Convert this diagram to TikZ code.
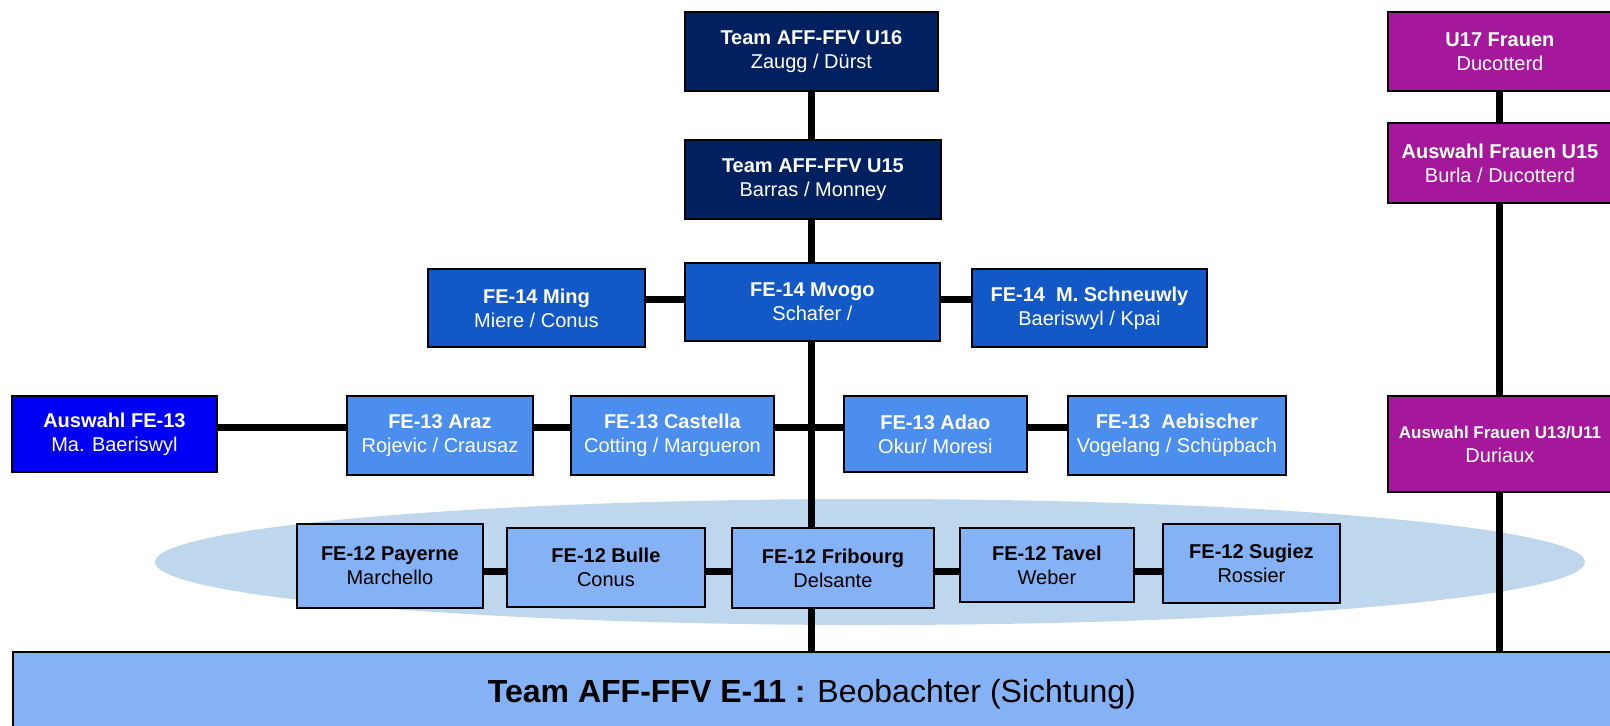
\documentclass[tikz,border=0pt]{standalone}
\usepackage{fontspec}
\setmainfont{Liberation Sans}
\usetikzlibrary{backgrounds}

\definecolor{navy}{RGB}{0,32,96}
\definecolor{lila}{RGB}{165,24,155}
\definecolor{blue14}{RGB}{18,88,198}
\definecolor{blueaus}{RGB}{0,0,245}
\definecolor{blue13}{RGB}{76,142,238}
\definecolor{blue12}{RGB}{133,178,245}
\definecolor{oval}{RGB}{191,215,237}

\tikzset{every picture/.style={line width=0.75pt}}
\tikzset{
  box/.style={draw=black, line width=1.4pt, anchor=north west, align=center, inner sep=2pt, font=\fontsize{15}{18}\selectfont},
  navybox/.style={box, fill=navy, text=white},
  lilabox/.style={box, fill=lila, text=white},
  fe14box/.style={box, fill=blue14, text=white},
  ausbox/.style={box, fill=blueaus, text=white},
  fe13box/.style={box, fill=blue13, text=white},
  fe12box/.style={box, fill=blue12, text=black},
  link/.style={draw=black, line width=5.25pt}
}

\begin{document}
\begin{tikzpicture}[x=0.75pt,y=0.75pt,yscale=-1,xscale=1]
\useasboundingbox (0,0) rectangle (1610,725);

% Spines and row heights
\coordinate (spine) at (811,0);
\coordinate (rspine) at (1499,0);
\coordinate (r14) at (0,299);
\coordinate (r13) at (0,427);
\coordinate (r12) at (0,571);

% Team boxes
\node[navybox, minimum width=189.75pt, minimum height=59.25pt] (u16) at (684,11) {\textbf{Team AFF-FFV U16}\\Zaugg / Dürst};
\node[navybox, minimum width=192pt, minimum height=59.25pt] (u15) at (684,139) {\textbf{Team AFF-FFV U15}\\Barras / Monney};

% Frauen
\node[lilabox, minimum width=168pt, minimum height=59.25pt] (fu17) at (1387,11) {\textbf{U17 Frauen}\\Ducotterd};
\node[lilabox, minimum width=168pt, minimum height=60pt] (fu15) at (1387,122) {\textbf{Auswahl Frauen U15}\\Burla / Ducotterd};
\node[lilabox, minimum width=168pt, minimum height=72pt] (fu13) at (1387,395) {{\fontsize{12.75}{17.25}\selectfont\textbf{Auswahl Frauen U13/U11}}\\Duriaux};

% FE-14
\node[fe14box, minimum width=162.75pt, minimum height=58.5pt] (ming) at (427,268) {\textbf{FE-14 Ming}\\Miere / Conus};
\node[fe14box, minimum width=191.25pt, minimum height=58.5pt] (mvogo) at (684,262) {\textbf{FE-14 Mvogo}\\Schafer /};
\node[fe14box, minimum width=176.25pt, minimum height=58.5pt] (schneuwly) at (971,268) {\textbf{FE-14\ \ M. Schneuwly}\\Baeriswyl / Kpai};

% FE-13
\node[ausbox, minimum width=153.75pt, minimum height=57pt] (aus13) at (11,395) {\textbf{Auswahl FE-13}\\Ma. Baeriswyl};
\node[fe13box, minimum width=139.5pt, minimum height=59.25pt] (araz) at (346,395) {\textbf{FE-13 Araz}\\Rojevic / Crausaz};
\node[fe13box, minimum width=152.25pt, minimum height=59.25pt] (castella) at (570,395) {\textbf{FE-13 Castella}\\Cotting / Margueron};
\node[fe13box, minimum width=137.25pt, minimum height=57pt] (adao) at (843,395) {\textbf{FE-13 Adao}\\Okur/ Moresi};
\node[fe13box, minimum width=163.5pt, minimum height=59.25pt] (aebischer) at (1067,395) {\textbf{FE-13\ \ Aebischer}\\Vogelang / Schüpbach};

% FE-12
\node[fe12box, minimum width=139.5pt, minimum height=63pt] (payerne) at (296,523) {\textbf{FE-12 Payerne}\\Marchello};
\node[fe12box, minimum width=148.5pt, minimum height=59.25pt] (bulle) at (506,527) {\textbf{FE-12 Bulle}\\Conus};
\node[fe12box, minimum width=151.5pt, minimum height=60pt] (fribourg) at (731,527) {\textbf{FE-12 Fribourg}\\Delsante};
\node[fe12box, minimum width=130.5pt, minimum height=55.5pt] (tavel) at (959,527) {\textbf{FE-12 Tavel}\\Weber};
\node[fe12box, minimum width=132.75pt, minimum height=59.25pt] (sugiez) at (1162,523) {\textbf{FE-12 Sugiez}\\Rossier};

% E-11 bar
\node[fe12box, minimum width=1198.5pt, minimum height=63pt, font=\fontsize{24}{28}\selectfont] (bar) at (12,651) {\textbf{Team AFF-FFV E-11 :} Beobachter (Sichtung)};

\begin{scope}[on background layer]
% Oval behind FE-12
\fill[oval] (870,562) ellipse (715 and 63);
% Straight Lines
\draw[link] (u16.south -| spine) -- (bar.north -| spine);
\draw[link] (fu17.south -| rspine) -- (bar.north -| rspine);
\draw[link] (ming.east |- r14) -- (schneuwly.west |- r14);
\draw[link] (aus13.east |- r13) -- (aebischer.west |- r13);
\draw[link] (payerne.east |- r12) -- (sugiez.west |- r12);
\end{scope}

\end{tikzpicture}
\end{document}
